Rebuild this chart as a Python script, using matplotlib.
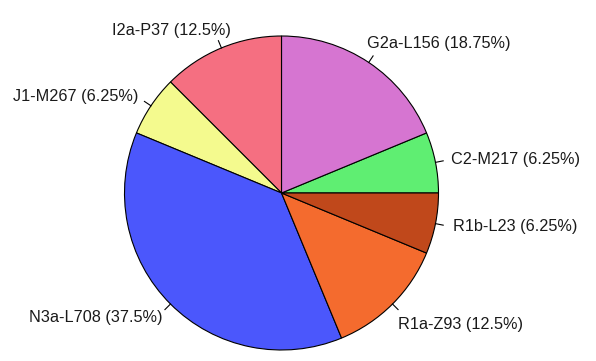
import numpy as np
import matplotlib
matplotlib.use('Agg')
import matplotlib.pyplot as plt

# Data (R-style pie: counter-clockwise from 3 o'clock)
haplogroups = ['C2-M217', 'G2a-L156', 'I2a-P37', 'J1-M267', 'N3a-L708', 'R1a-Z93', 'R1b-L23']
shares = [6.25, 18.75, 12.5, 6.25, 37.5, 12.5, 6.25]
colors = ['#5FEE72', '#D675D1', '#F56F81', '#F4FA8E', '#4B57FC', '#F46B2E', '#C0481B']

# small label nudges in pixels (dx right, dy down) to match the original layout
nudges = [(0, 0), (-10, -6), (15, -3), (0, -1), (3, 2), (-6, 9), (2, 0)]

plt.rcParams['font.family'] = ['Liberation Sans', 'DejaVu Sans']

fig = plt.figure(figsize=(5.96, 3.61), dpi=100)
ax = fig.add_axes([0, 0, 1, 1])

r_px = 157.0
cx, cy = 281.5, 193.0

ax.pie(shares, colors=colors, startangle=0, counterclock=True, radius=1.0,
       wedgeprops=dict(edgecolor='black', linewidth=0.8))
ax.set_xlim(-cx / r_px, (596 - cx) / r_px)
ax.set_ylim(-(361 - cy) / r_px, cy / r_px)
ax.set_aspect('equal')
ax.axis('off')

total = sum(shares)
cum = np.cumsum([0] + shares)
for i, (name, val) in enumerate(zip(haplogroups, shares)):
    mid = 2 * np.pi * (cum[i] + cum[i + 1]) / 2 / total
    c, s = np.cos(mid), np.sin(mid)
    ax.plot([c, 1.05 * c], [s, 1.05 * s], color='black', linewidth=0.8)
    dx, dy = nudges[i]
    label = f'{name} ({val:g}%)'
    ax.text(1.1 * c + dx / r_px, 1.1 * s - dy / r_px, label,
            ha='left' if c > 0 else 'right', va='center',
            fontsize=11.7, color='#1a1a1a')

fig.savefig('out.png', dpi=100)
